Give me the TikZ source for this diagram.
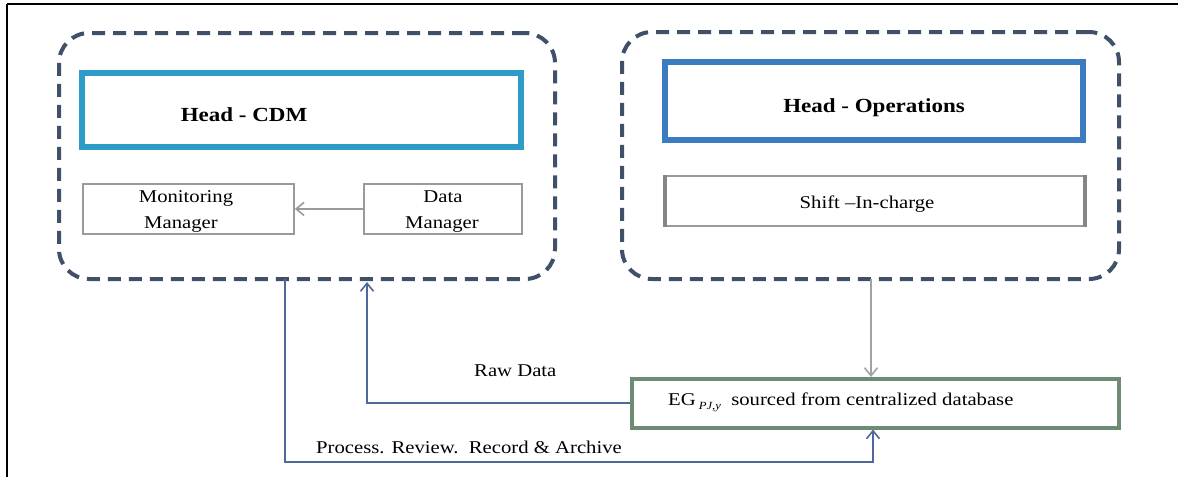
\documentclass[tikz,border=0pt]{standalone}
\usepackage{fontspec}
\setmainfont{Liberation Serif}[FakeStretch=1.15]
\usetikzlibrary{arrows.meta}

\definecolor{groupline}{HTML}{3F5068}
\definecolor{cdmblue}{HTML}{2E9CC8}
\definecolor{opsblue}{HTML}{3B7BBF}
\definecolor{boxgray}{HTML}{9A9A9A}
\definecolor{sidegray}{HTML}{858585}
\definecolor{egreen}{HTML}{6E8C74}
\definecolor{flowblue}{HTML}{50699A}
\definecolor{downgray}{HTML}{A3A3A3}

\tikzset{
  groupbox/.style={draw=groupline, line width=4pt, dash pattern=on 13pt off 8pt, rounded corners=30pt},
  headbox/.style={line width=5.5pt},
  staffbox/.style={draw=boxgray, line width=1.8pt},
  headtext/.style={font=\fontsize{20}{22}\selectfont\bfseries, inner sep=0pt},
  bodytext/.style={font=\fontsize{18}{20}\selectfont, inner sep=0pt},
  tip/.style={-{Straight Barb[length=8pt,width=13pt,line width=1.6pt]}},
  flow/.style={draw=flowblue, line width=2pt, tip},
}

\begin{document}
\begin{tikzpicture}[x=1pt,y=-1pt]
  \useasboundingbox (0,0) rectangle (1178,477);

  % page frame (top and left rules)
  \draw[line width=2.6pt] (7,4) -- (1178,4);
  \draw[line width=2.6pt] (7,4) -- (7,477);

  % CDM group
  \node[groupbox, minimum width=496pt, minimum height=246pt, anchor=north west] (lgroup) at (57,31) {};
  \draw[headbox, draw=cdmblue] (82,73) rectangle (521,147);
  \node[headtext, anchor=base] (cdm) at (244,121) {Head - CDM};
  \node[staffbox, minimum width=211pt, minimum height=50pt, anchor=north west] (mm) at (82,183) {};
  \node[bodytext, anchor=base] (mmt1) at (186,202) {Monitoring};
  \node[bodytext, anchor=base] (mmt2) at (181,228) {Manager};
  \node[staffbox, minimum width=158pt, minimum height=50pt, anchor=north west] (dm) at (363,183) {};
  \node[bodytext, anchor=base] (dmt1) at (443,202) {Data};
  \node[bodytext, anchor=base] (dmt2) at (442,228) {Manager};
  \draw[draw=boxgray, line width=2pt, tip] (dm.west) -- (mm.east);

  % Operations group
  \node[groupbox, minimum width=497pt, minimum height=247pt, anchor=north west] (rgroup) at (620,30) {};
  \draw[headbox, draw=opsblue, line width=6pt] (665,62) rectangle (1083,140);
  \node[headtext, anchor=base] (ops) at (874,112) {Head - Operations};
  \node[staffbox, minimum width=418pt, minimum height=50pt, anchor=north west] (sic) at (665,175) {};
  \draw[draw=sidegray, line width=4.5pt] (sic.north west) -- (sic.south west);
  \draw[draw=sidegray, line width=4.5pt] (sic.north east) -- (sic.south east);
  \node[bodytext, anchor=base] (sict) at (867,208) {Shift --In-charge};

  % data source
  \node[draw=egreen, line width=3.5pt, minimum width=487pt, minimum height=49pt, anchor=north west] (eg) at (630,377) {};
  \node[bodytext, anchor=base west] (egt) at (668,405) {EG\,{\fontsize{11}{12}\selectfont\itshape\raisebox{-4pt}{PJ,y}}\ \ sourced from centralized database};

  % flows
  \draw[draw=downgray, line width=1.6pt, tip] (871,279) -- (eg.north -| 871,0);
  \coordinate (rawtip) at (367,282);
  \draw[flow] (eg.west) -| (rawtip);
  \node[bodytext, anchor=base west] (raw) at (474,376) {Raw Data};

  \coordinate (pstart) at (285,279);
  \coordinate (pcorner) at (873,462);
  \draw[flow] (pstart) |- (pcorner) -- (pcorner |- eg.south);
  \node[bodytext, anchor=base west] (proc) at (316,453) {Process. Review.\ \ Record \& Archive};
\end{tikzpicture}
\end{document}
